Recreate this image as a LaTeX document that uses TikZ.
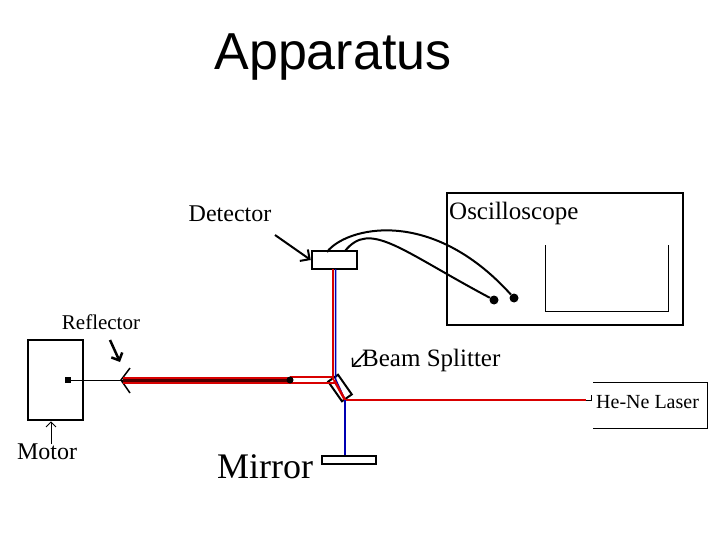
\documentclass[tikz,border=0pt]{standalone}
\usepackage{fontspec}
\setmainfont{Liberation Serif}
\newfontfamily\titlefont{Liberation Sans}
\usetikzlibrary{arrows.meta}
\begin{document}
\begin{tikzpicture}[x=1pt,y=-1pt,
    box/.style={draw=black,line width=2.5pt},
    lbl/.style={inner sep=0pt,font=\fontsize{24}{24}\selectfont},
    dot/.style={circle,fill=black,inner sep=0pt,minimum size=9pt},
    redbeam/.style={draw=red!85!black,line width=2.5pt},
    bluebeam/.style={draw=blue!70!black,line width=2.5pt}]
    \useasboundingbox (0,0) rectangle (720,540);

    \node[font=\titlefont\fontsize{52}{52}\selectfont] (Title) at (333,57) {Apparatus};

    % detector and oscilloscope
    \node[box,minimum width=45pt,minimum height=18pt,inner sep=0pt] (Detector) at (334.5,260) {};
    \node[lbl] (DetectorLabel) at (230,214) {Detector};
    \node[box,minimum width=236pt,minimum height=132pt,inner sep=0pt] (Oscilloscope) at (565,259) {};
    \node[lbl,anchor=west,font=\fontsize{25}{25}\selectfont] (OscilloscopeLabel) at (449,213) {Oscilloscope};
    \coordinate (ScreenTL) at (545,245);
    \coordinate (ScreenTR) at (668,245);
    \draw[line width=1pt] (ScreenTL) |- (ScreenTR |- 0,311) -- (ScreenTR);
    \node[dot] (InputA) at (494,300) {};
    \node[dot] (InputB) at (514,298) {};
    \coordinate (CableA) at (327,252);
    \coordinate (CableB) at (345,251);
    \draw[line width=2pt] (CableA) .. controls (345,228) and (430,205) .. (InputB);
    \draw[line width=2pt] (CableB) .. controls (370,220) and (400,250) .. (InputA);
    \draw[line width=2pt,-{Straight Barb[length=7pt]}] (275,235) -- (Detector.west);

    % beam splitter
    \node[draw=black,line width=2pt,minimum width=12pt,minimum height=24pt,inner sep=0pt,rotate=35] (Splitter) at (340,388) {};
    \node[lbl,anchor=west,font=\fontsize{25}{25}\selectfont] (SplitterLabel) at (362,360) {Beam Splitter};
    \draw[line width=1.5pt,-{Straight Barb[length=6pt]}] (366,352) -- (352,367);

    % beams
    \coordinate (Split) at (345,400);
    \coordinate (Turn) at (334,380);
    \draw[redbeam] (333,269) -- (333,380);
    \draw[bluebeam,line width=1.5pt] (335.5,269) -- (335.5,379) -- (Split);
    \draw[redbeam] (Split) -- (Turn);

    % laser
    \node[lbl,anchor=west,font=\fontsize{20}{20}\selectfont] (Laser) at (596,402) {He-Ne Laser};
    \draw[line width=1pt] (593,382) -| (707,428) -- (593,428);
    \draw[line width=1pt] (586,400) -- (591,400) -- (591,395);
    \draw[redbeam] (Split) -- (586,400);

    % mirror
    \node[draw=black,line width=2pt,minimum width=54pt,minimum height=8pt,inner sep=0pt] (Mirror) at (349,460) {};
    \node[inner sep=0pt,font=\fontsize{36}{36}\selectfont] (MirrorLabel) at (265,467) {Mirror};
    \draw[bluebeam] (Split) -- (Mirror.north -| Split);

    % reflector arm
    \node[box,minimum width=55pt,minimum height=80pt,inner sep=0pt] (Motor) at (55.5,380) {};
    \node[lbl] (MotorLabel) at (47,452) {Motor};
    \draw[line width=1pt,-{Straight Barb[length=5pt]}] (51,444) -- (Motor.south -| 51,0);
    \node[fill=black,inner sep=0pt,minimum size=6pt] (Axis) at (68,380) {};
    \coordinate (Reflector) at (123,380);
    \node[lbl,font=\fontsize{21}{21}\selectfont] (ReflectorLabel) at (101,322) {Reflector};
    \draw[line width=2.5pt,-{Straight Barb[length=6pt]}] (110,340) -- (120,362);
    \draw[line width=1pt] (Axis) -- (Reflector);
    \draw[line width=1.5pt] (130,368) -- (121,380) -- (130,393);
    \draw[draw=red!85!black,line width=7pt] (Reflector) -- (290,380);
    \draw[draw=red!30!black,line width=3pt] (Reflector) -- (290,380);
    \draw[redbeam] (290,377) -- (334,377);
    \draw[redbeam] (290,383) -- (336,383);
    \node[dot,minimum size=7pt] (Hub) at (290,380) {};
\end{tikzpicture}
\end{document}
